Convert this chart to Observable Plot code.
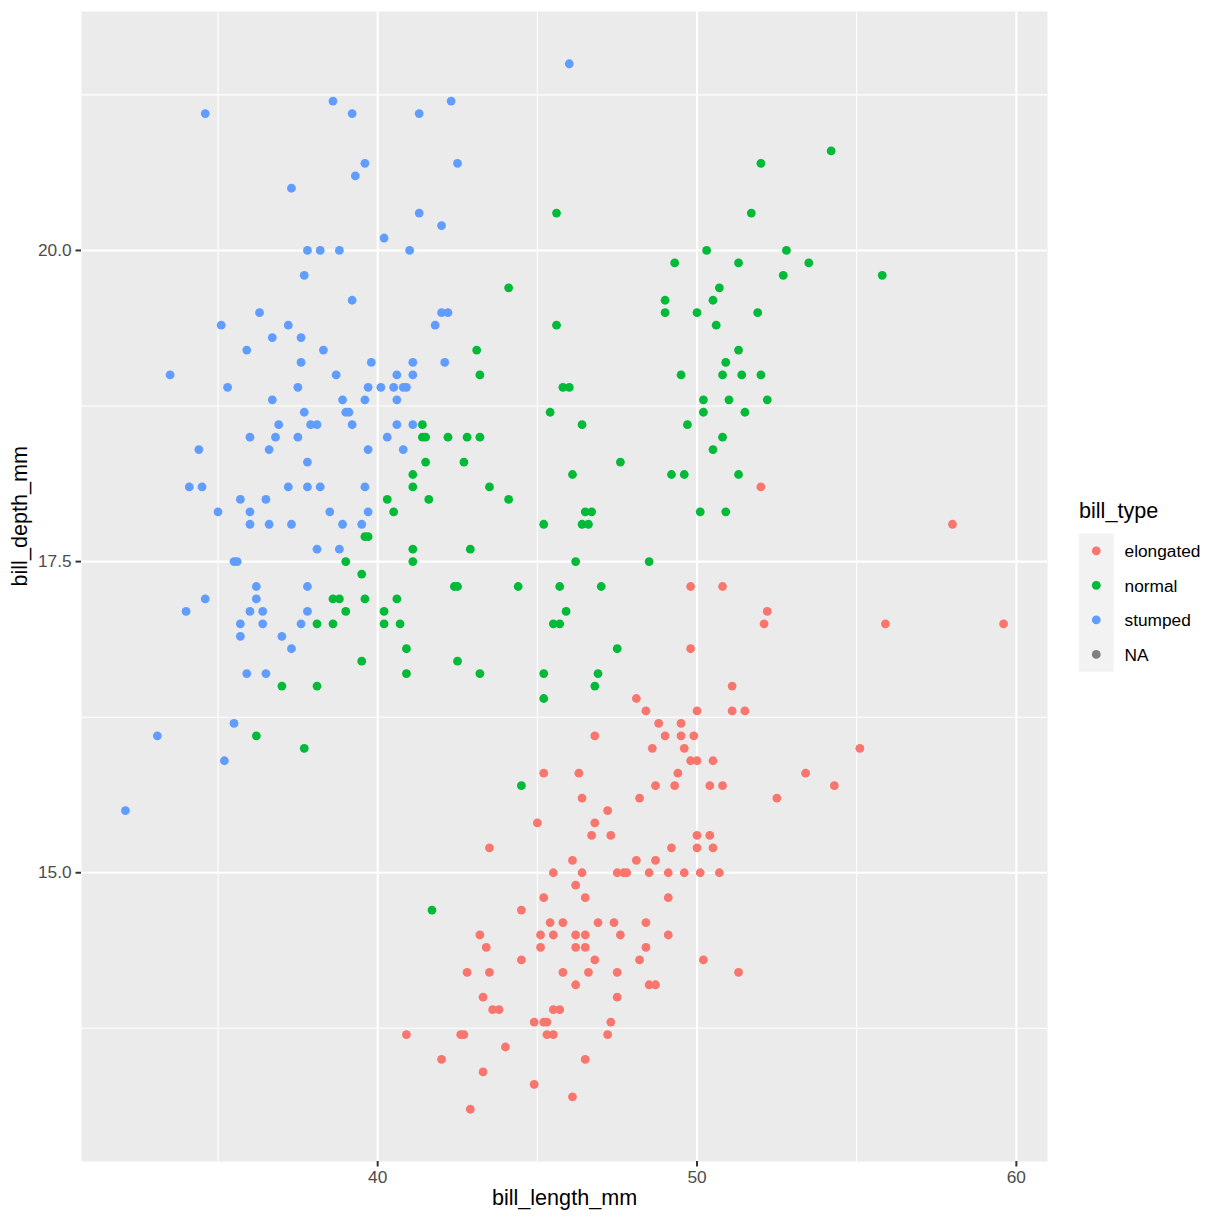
<!DOCTYPE html>
<html>
<head>
<meta charset="utf-8">
<script src="https://cdn.jsdelivr.net/npm/d3@7"></script>
<script src="https://cdn.jsdelivr.net/npm/@observablehq/plot@0.6"></script>
<style>
  body { margin: 0; background: white; }
  #wrap { position: relative; width: 1224px; height: 1224px; }
  #wrap svg.legend { position: absolute; left: 0; top: 0; pointer-events: none; }
</style>
</head>
<body>
<div id="wrap"></div>
<script>
// ---- data ----
const categories = ["elongated", "normal", "stumped", "NA"];
const colors = ["#F8766D", "#00BA38", "#619CFF", "#7F7F7F"];
const xLabel = "bill_length_mm";
const yLabel = "bill_depth_mm";
const legendTitle = "bill_type";
const xTicks = [40, 50, 60];
const yTicks = [15, 17.5, 20];
const xMinor = [35, 45, 55];
const yMinor = [13.75, 16.25, 18.75, 21.25];

const stumped = [
  [38.6,21.2],[34.6,21.1],[39.2,21.1],[39.6,20.7],[39.3,20.6],[37.3,20.5],[40.2,20.1],
  [37.8,20.0],[38.2,20.0],[38.8,20.0],[37.7,19.8],[39.2,19.6],
  [46.0,21.5],[42.3,21.2],[41.3,21.1],[42.5,20.7],[41.3,20.3],[42.0,20.2],[41.0,20.0],
  [36.3,19.5],[35.1,19.4],[37.2,19.4],[36.7,19.3],[37.6,19.3],[35.9,19.2],[38.3,19.2],
  [37.6,19.1],[39.8,19.1],[33.5,19.0],[38.7,19.0],[40.6,19.0],
  [35.3,18.9],[37.5,18.9],[39.7,18.9],[40.1,18.9],[40.5,18.9],[40.8,18.9],[40.9,18.9],
  [36.7,18.8],[38.9,18.8],[39.6,18.8],[40.6,18.8],[37.7,18.7],[39.0,18.7],[39.1,18.7],
  [36.9,18.6],[37.9,18.6],[38.1,18.6],[39.2,18.6],[40.6,18.6],[41.1,18.6],
  [36.0,18.5],[36.8,18.5],[37.5,18.5],[40.3,18.5],[34.4,18.4],[36.6,18.4],[39.7,18.4],[40.8,18.4],
  [37.8,18.3],[34.1,18.1],[34.5,18.1],[37.2,18.1],[37.8,18.1],[38.2,18.1],[39.6,18.1],
  [35.7,18.0],[36.5,18.0],[35.0,17.9],[36.0,17.9],[38.5,17.9],[39.7,17.9],
  [36.0,17.8],[36.6,17.8],[37.3,17.8],[38.9,17.8],[39.5,17.8],[38.1,17.6],[38.8,17.6],
  [35.5,17.5],[35.6,17.5],
  [42.0,19.5],[42.2,19.5],[41.8,19.4],[41.1,19.1],[42.1,19.1],[41.1,19.0],
  [36.2,17.3],[37.8,17.3],[34.6,17.2],[36.2,17.2],[34.0,17.1],[36.0,17.1],[36.4,17.1],[37.8,17.1],
  [35.7,17.0],[36.4,17.0],[37.6,17.0],[35.7,16.9],[37.0,16.9],[37.3,16.8],[35.9,16.6],[36.5,16.6],
  [35.5,16.2],[33.1,16.1],[35.2,15.9],[32.1,15.5]
];

const elongated = [
  [49.8,17.3],[49.8,16.8],[48.1,16.4],[48.4,16.3],[50.0,16.3],[48.8,16.2],[49.5,16.2],
  [46.8,16.1],[49.0,16.1],[49.5,16.1],[49.9,16.1],[48.6,16.0],[49.6,16.0],[49.8,15.9],[50.0,15.9],
  [45.2,15.8],[46.3,15.8],[49.4,15.8],[48.7,15.7],[49.3,15.7],[46.4,15.6],[48.2,15.6],
  [47.2,15.5],[45.0,15.4],[46.8,15.4],
  [52.0,18.1],[58.0,17.8],[50.8,17.3],[52.2,17.1],[52.1,17.0],[55.9,17.0],[59.6,17.0],
  [51.1,16.5],[51.1,16.3],[51.5,16.3],[55.1,16.0],[50.5,15.9],[53.4,15.8],[50.4,15.7],
  [50.8,15.7],[54.3,15.7],[52.5,15.6],
  [46.7,15.3],[47.3,15.3],[50.0,15.3],[50.4,15.3],[43.5,15.2],[49.2,15.2],[50.0,15.2],[50.5,15.2],
  [46.1,15.1],[48.1,15.1],[48.7,15.1],
  [45.5,15.0],[46.4,15.0],[47.5,15.0],[47.7,15.0],[47.8,15.0],[48.5,15.0],[49.1,15.0],[49.6,15.0],
  [50.1,15.0],[50.7,15.0],
  [46.2,14.9],[45.2,14.8],[46.5,14.8],[49.1,14.8],[44.5,14.7],
  [45.4,14.6],[45.8,14.6],[46.9,14.6],[47.4,14.6],[48.4,14.6],
  [43.2,14.5],[45.1,14.5],[45.5,14.5],[46.2,14.5],[46.5,14.5],[47.6,14.5],[49.1,14.5],
  [43.4,14.4],[45.1,14.4],[46.2,14.4],[46.5,14.4],[48.4,14.4],
  [44.5,14.3],[46.8,14.3],[48.2,14.3],[50.2,14.3],
  [42.8,14.2],[43.5,14.2],[45.8,14.2],[46.6,14.2],[47.5,14.2],[51.3,14.2],
  [46.2,14.1],[48.5,14.1],[48.7,14.1],[43.3,14.0],[47.5,14.0],
  [43.6,13.9],[43.8,13.9],[45.5,13.9],[45.7,13.9],
  [44.9,13.8],[45.2,13.8],[45.3,13.8],[47.3,13.8],
  [40.9,13.7],[42.6,13.7],[42.7,13.7],[45.3,13.7],[45.5,13.7],[47.2,13.7],
  [44.0,13.6],[42.0,13.5],[46.5,13.5],[43.3,13.4],[44.9,13.3],[46.1,13.2],[42.9,13.1]
];

const normal = [
  [45.6,20.3],[49.3,19.9],[44.1,19.7],[49.0,19.6],
  [54.2,20.8],[52.0,20.7],[51.7,20.3],[50.3,20.0],[52.8,20.0],[51.3,19.9],[53.5,19.9],
  [52.7,19.8],[55.8,19.8],[50.7,19.7],[50.5,19.6],
  [49.0,19.5],[50.0,19.5],[45.6,19.4],[43.1,19.2],[43.2,19.0],[49.5,19.0],[45.8,18.9],[46.0,18.9],
  [50.2,18.8],[45.4,18.7],[41.4,18.6],[46.4,18.6],[49.7,18.6],
  [41.4,18.5],[41.5,18.5],[42.2,18.5],[42.8,18.5],[43.2,18.5],
  [41.5,18.3],[42.7,18.3],[47.6,18.3],[41.1,18.2],[46.1,18.2],[49.2,18.2],[49.6,18.2],
  [41.1,18.1],[43.5,18.1],[41.6,18.0],[44.1,18.0],[46.5,17.9],[46.7,17.9],[50.1,17.9],
  [45.2,17.8],[46.4,17.8],[46.6,17.8],[41.1,17.6],[42.9,17.6],[41.1,17.5],[46.2,17.5],[48.5,17.5],
  [51.9,19.5],[50.6,19.4],[51.3,19.2],[50.9,19.1],[50.8,19.0],[51.4,19.0],[52.0,19.0],
  [51.0,18.8],[52.2,18.8],[50.2,18.7],[51.5,18.7],[50.8,18.5],[50.5,18.4],[51.3,18.2],[50.9,17.9],
  [40.3,18.0],[40.5,17.9],[39.6,17.7],[39.7,17.7],[39.0,17.5],
  [39.5,17.4],[38.6,17.2],[38.8,17.2],[39.6,17.2],[40.6,17.2],[39.0,17.1],[40.2,17.1],
  [38.1,17.0],[38.6,17.0],[40.2,17.0],[40.7,17.0],[39.5,16.7],[37.0,16.5],[38.1,16.5],
  [36.2,16.1],[37.7,16.0],
  [42.4,17.3],[42.5,17.3],[44.4,17.3],[45.7,17.3],[47.0,17.3],[45.9,17.1],[45.5,17.0],[45.7,17.0],
  [40.9,16.8],[47.5,16.8],[42.5,16.7],[40.9,16.6],[43.2,16.6],[45.2,16.6],[46.9,16.6],
  [46.8,16.5],[45.2,16.4],[44.5,15.7],[41.7,14.7]
];

// ---- table built from the arrays ----
const toRows = (arr, type) => arr.map(([x, y]) => ({bill_length_mm: x, bill_depth_mm: y, bill_type: type}));
const data = [
  ...toRows(stumped, "stumped"),
  ...toRows(elongated, "elongated"),
  ...toRows(normal, "normal")
];

// ggplot-like 5% expansion of the data range
const expand = (ext) => { const p = (ext[1] - ext[0]) * 0.05; return [ext[0] - p, ext[1] + p]; };
const xDomain = expand(d3.extent(data, d => d.bill_length_mm));
const yDomain = expand(d3.extent(data, d => d.bill_depth_mm));

const font = "'Liberation Sans', Arial, Helvetica, sans-serif";

const chart = Plot.plot({
  width: 1224,
  height: 1224,
  marginLeft: 81,
  marginRight: 177,
  marginTop: 11,
  marginBottom: 63,
  x: {domain: xDomain},
  y: {domain: yDomain},
  color: {domain: categories, range: colors},
  style: {fontFamily: font, background: "white", overflow: "visible"},
  marks: [
    Plot.frame({fill: "#EBEBEB", stroke: null}),
    Plot.gridX(xMinor, {stroke: "white", strokeOpacity: 1, strokeWidth: 1.07}),
    Plot.gridY(yMinor, {stroke: "white", strokeOpacity: 1, strokeWidth: 1.07}),
    Plot.gridX(xTicks, {stroke: "white", strokeOpacity: 1, strokeWidth: 2.13}),
    Plot.gridY(yTicks, {stroke: "white", strokeOpacity: 1, strokeWidth: 2.13}),
    Plot.dot(data, {x: "bill_length_mm", y: "bill_depth_mm", fill: "bill_type", r: 4.4, stroke: null}),
    Plot.axisX(xTicks, {tickSize: 5.5, tickPadding: 3.5, fontSize: 17.3, stroke: "#333333", fill: "#4D4D4D", strokeWidth: 2, label: null}),
    Plot.axisY(yTicks, {tickSize: 5.5, tickPadding: 4.4, fontSize: 17.3, stroke: "#333333", fill: "#4D4D4D", strokeWidth: 2, label: null, tickFormat: d3.format(".1f")}),
    Plot.text([xLabel], {text: d => d, frameAnchor: "bottom", dy: 43, fontSize: 21.6, fill: "black"}),
    Plot.text([yLabel], {text: d => d, frameAnchor: "left", dx: -61, rotate: -90, fontSize: 21.6, fill: "black"})
  ]
});

const wrap = document.getElementById("wrap");
wrap.appendChild(chart);

// ---- legend (ggplot style, right side) ----
const leg = d3.select(wrap).append("svg")
  .attr("class", "legend")
  .attr("width", 1224).attr("height", 1224)
  .style("font-family", font);
const keySize = 34.56, keyX = 1079, keyTop = 533.5;
leg.append("text").attr("x", keyX).attr("y", 518).attr("font-size", 21.6).attr("fill", "black").text(legendTitle);
leg.append("rect").attr("x", keyX).attr("y", keyTop).attr("width", keySize).attr("height", keySize * categories.length).attr("fill", "#F2F2F2");
categories.forEach((c, i) => {
  const cy = keyTop + keySize * (i + 0.5);
  leg.append("circle").attr("cx", keyX + keySize / 2).attr("cy", cy).attr("r", 4.4).attr("fill", colors[i]);
  leg.append("text").attr("x", keyX + keySize + 11).attr("y", cy).attr("dy", "0.36em")
    .attr("font-size", 17.3).attr("fill", "black").text(c);
});
</script>
</body>
</html>
